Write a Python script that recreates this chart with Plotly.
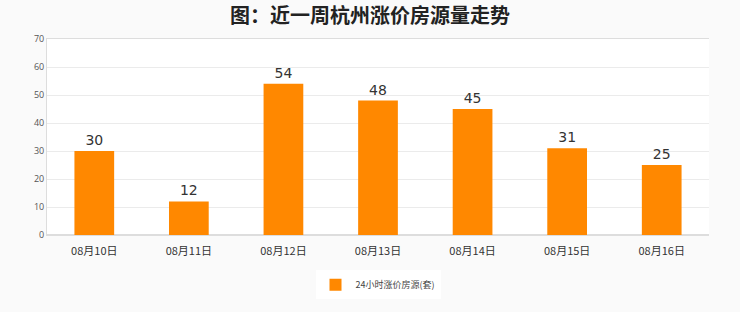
import plotly.graph_objects as go

categories = ["08月10日", "08月11日", "08月12日", "08月13日", "08月14日", "08月15日", "08月16日"]
values = [30, 12, 54, 48, 45, 31, 25]
series_name = "24小时涨价房源(套)"
title_text = "图：近一周杭州涨价房源量走势"

fig = go.Figure()
fig.add_trace(go.Bar(
    x=categories, y=values, name=series_name,
    marker=dict(color="#ff8800", line=dict(width=0)),
    width=0.42,
    text=[str(v) for v in values], textposition="outside",
    textfont=dict(size=14, color="#333333", family="DejaVu Sans"),
    cliponaxis=False,
))
fig.update_layout(
    width=740, height=312,
    margin=dict(l=47, r=31, t=39, b=77),
    paper_bgcolor="#fafafa", plot_bgcolor="#ffffff",
    title=dict(text="<b>" + title_text + "</b>", x=0.5, xanchor="center", y=0.95, yanchor="middle",
               font=dict(size=20, color="#222222", family="Noto Sans CJK SC")),
    showlegend=True,
    legend=dict(orientation="h", x=0.5, xanchor="center", y=-0.18, yanchor="top",
                bgcolor="#ffffff", font=dict(size=9, color="#444444", family="Noto Sans CJK SC"),
                itemwidth=30),
    bargap=0.58,
)
fig.update_yaxes(range=[0, 70], dtick=10, showgrid=True, gridcolor="#ebebeb",
                 showline=True, linecolor="#dddddd", tickfont=dict(size=9, color="#555555"),
                 ticks="", zeroline=True, zerolinecolor="#dddddd", mirror=False)
fig.update_xaxes(showline=True, linecolor="#dddddd", mirror=True, ticklabelstandoff=6,
                 tickfont=dict(size=11, color="#333333", family="Noto Sans CJK SC"))
fig.write_html("out.html")
